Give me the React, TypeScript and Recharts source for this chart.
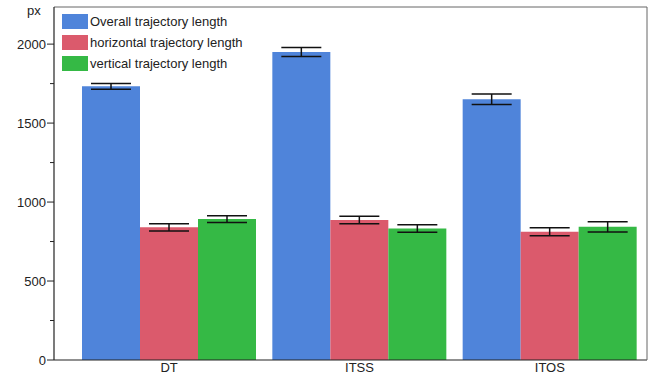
import React from 'react'
import { BarChart, Bar, XAxis, YAxis, ErrorBar, Legend } from 'recharts'

document.body.style.margin = '0'

const categories = ['DT', 'ITSS', 'ITOS']
const overall = [1733, 1950, 1651]
const overallErr = [18, 29, 33]
const horizontal = [840, 886, 812]
const horizontalErr = [23, 24, 26]
const vertical = [892, 833, 843]
const verticalErr = [21, 24, 33]
const yTicks = [0, 250, 500, 750, 1000, 1250, 1500, 1750, 2000]

const data = categories.map((name, i) => ({
  name,
  overall: overall[i],
  overallErr: overallErr[i],
  horizontal: horizontal[i],
  horizontalErr: horizontalErr[i],
  vertical: vertical[i],
  verticalErr: verticalErr[i],
}))

const FONT = '"Liberation Sans", Arial, sans-serif'

const YTick = (props: any) => {
  const { x, y, payload } = props
  const major = payload.value % 500 === 0
  return (
    <g>
      <line x1={x - (major ? 7 : 4)} x2={x} y1={y} y2={y} stroke="#222" strokeWidth={1} />
      {major && (
        <text x={x - 8} y={y} dy="0.35em" textAnchor="end" fill="#222" fontSize={13} fontFamily={FONT}>
          {payload.value}
        </text>
      )}
    </g>
  )
}

const LegendBox = (props: any) => (
  <div style={{ fontFamily: FONT, fontSize: 13, color: '#222' }}>
    {props.payload.map((p: any) => (
      <div key={p.value} style={{ display: 'flex', alignItems: 'center', height: 21 }}>
        <span style={{ width: 26, height: 15, background: p.color, marginRight: 2, display: 'inline-block' }} />
        {p.value}
      </div>
    ))}
  </div>
)

export default function App() {
  return (
    <div style={{ position: 'relative', width: 652, height: 377, background: '#fff' }}>
      <span style={{ position: 'absolute', left: 27, top: 3, fontFamily: FONT, fontSize: 13, color: '#222' }}>px</span>
      <BarChart
        width={652}
        height={377}
        data={data}
        margin={{ top: 6, right: 4, left: 0, bottom: 0 }}
        barGap={0}
        barCategoryGap={8}
      >
        <XAxis
          dataKey="name"
          height={17}
          padding={{ left: 20, right: 2 }}
          tickLine={false}
          tickSize={0}
          tickMargin={3}
          axisLine={{ stroke: '#222', strokeWidth: 1.2 }}
          tick={{ fill: '#222', fontSize: 13, fontFamily: FONT }}
        />
        <XAxis
          xAxisId="top"
          dataKey="name"
          orientation="top"
          height={1}
          padding={{ left: 20, right: 2 }}
          tick={false}
          tickLine={false}
          axisLine={{ stroke: '#666', strokeWidth: 1 }}
        />
        <YAxis
          width={54}
          domain={[0, 2235]}
          ticks={yTicks}
          interval={0}
          tickLine={false}
          tickSize={0}
          tickMargin={0}
          axisLine={{ stroke: '#222', strokeWidth: 1.2 }}
          tick={<YTick />}
        />
        <YAxis
          yAxisId="right"
          orientation="right"
          width={1}
          domain={[0, 2235]}
          tick={false}
          tickLine={false}
          axisLine={{ stroke: '#666', strokeWidth: 1 }}
        />
        <Legend
          layout="horizontal"
          verticalAlign="middle"
          align="center"
          content={<LegendBox />}
          wrapperStyle={{ position: 'absolute', left: 62, top: 11, width: 'auto', height: 'auto' }}
        />
        <Bar dataKey="overall" name="Overall trajectory length" fill="#4F84DA" isAnimationActive={false}>
          <ErrorBar dataKey="overallErr" width={20} stroke="#111" strokeWidth={1.5} />
        </Bar>
        <Bar dataKey="horizontal" name="horizontal trajectory length" fill="#DB5A6C" isAnimationActive={false}>
          <ErrorBar dataKey="horizontalErr" width={20} stroke="#111" strokeWidth={1.5} />
        </Bar>
        <Bar dataKey="vertical" name="vertical trajectory length" fill="#35B945" isAnimationActive={false}>
          <ErrorBar dataKey="verticalErr" width={20} stroke="#111" strokeWidth={1.5} />
        </Bar>
      </BarChart>
    </div>
  )
}
